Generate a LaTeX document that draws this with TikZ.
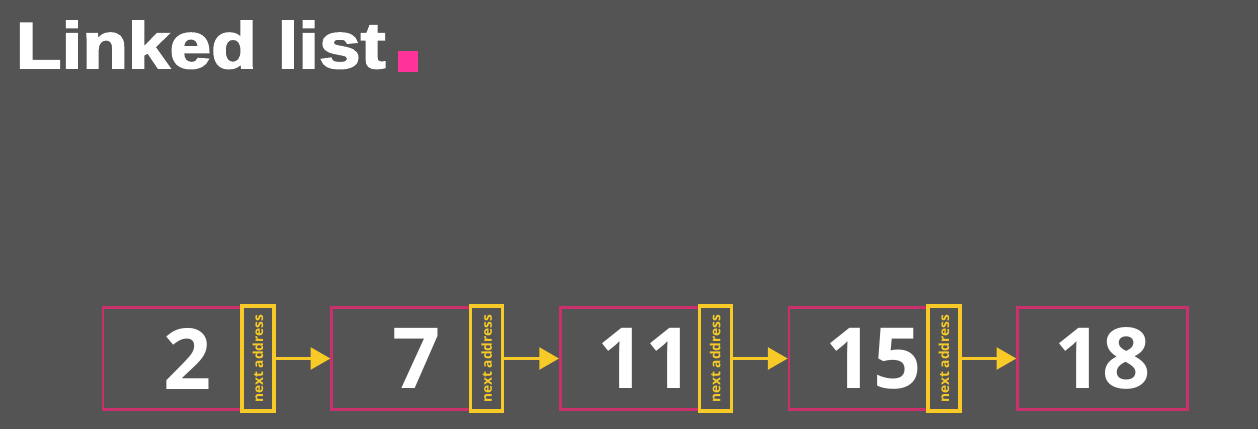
\documentclass[tikz,border=0pt]{standalone}
\usepackage{fontspec}
\usetikzlibrary{arrows.meta}
\newfontfamily\titlefont{Liberation Sans}[BoldFeatures={FakeBold=2.5}]
\newfontfamily\numfont{Open Sans}

\definecolor{slide}{RGB}{84,84,84}
\definecolor{cellpink}{RGB}{204,48,108}
\definecolor{hotpink}{RGB}{255,51,153}
\definecolor{ptryellow}{RGB}{247,202,40}

\tikzset{
  cell/.style={draw=cellpink, line width=0.75pt, minimum width=1.70cm, minimum height=1.02cm,
    inner sep=0pt, text=white, font=\numfont\bfseries\fontsize{24}{24}\selectfont},
  addr/.style={draw=ptryellow, fill=slide, line width=1pt, minimum width=0.32cm, minimum height=1.05cm,
    inner sep=0pt, text=ptryellow, font=\numfont\bfseries\fontsize{3.9}{4}\selectfont},
  link/.style={draw=ptryellow, line width=0.85pt, -{Triangle[length=5.6pt,width=6.2pt]}}
}

\begin{document}
\begin{tikzpicture}

  % Background of the slide
  \fill[slide] (0,0) rectangle (12.58,4.29);
  \useasboundingbox (0,0) rectangle (12.58,4.29);

  %%%%%%%%%%%%%%%%%%%%%%%%%%%%%%%%% Title %%%%%%%%%%%%%%%%%%%%%%%%%%%%%%%%%%%%
  \node[anchor=base west, inner sep=0pt, text=white, xscale=1.15, transform shape,
    font=\titlefont\bfseries\fontsize{18.5}{19}\selectfont] (title) at (0.15,3.61) {Linked list};
  \node[fill=hotpink, inner sep=0pt, minimum size=0.205cm] (dot) at (4.08,3.675) {};

  %%%%%%%%%%%%%%%%%%%%%%%%%%%%%%%%% Cells of the list %%%%%%%%%%%%%%%%%%%%%%%%%%%%%%%%%%%%
  \foreach \val [count=\i] in {2,7,11,15,18}
    \node[cell] (n\i) at ({1.88+2.2865*(\i-1)},0.705) {\val};

  % next address fields
  \foreach \i in {1,...,4}
    \node[addr] (a\i) at ({2.58+2.2865*(\i-1)},0.705) {\rotatebox{90}{next address}};

  % links
  \draw[link] (a1.east) -- (n2.west);
  \draw[link] (a2.east) -- (n3.west);
  \draw[link] (a3.east) -- (n4.west);
  \draw[link] (a4.east) -- (n5.west);

\end{tikzpicture}
\end{document}
